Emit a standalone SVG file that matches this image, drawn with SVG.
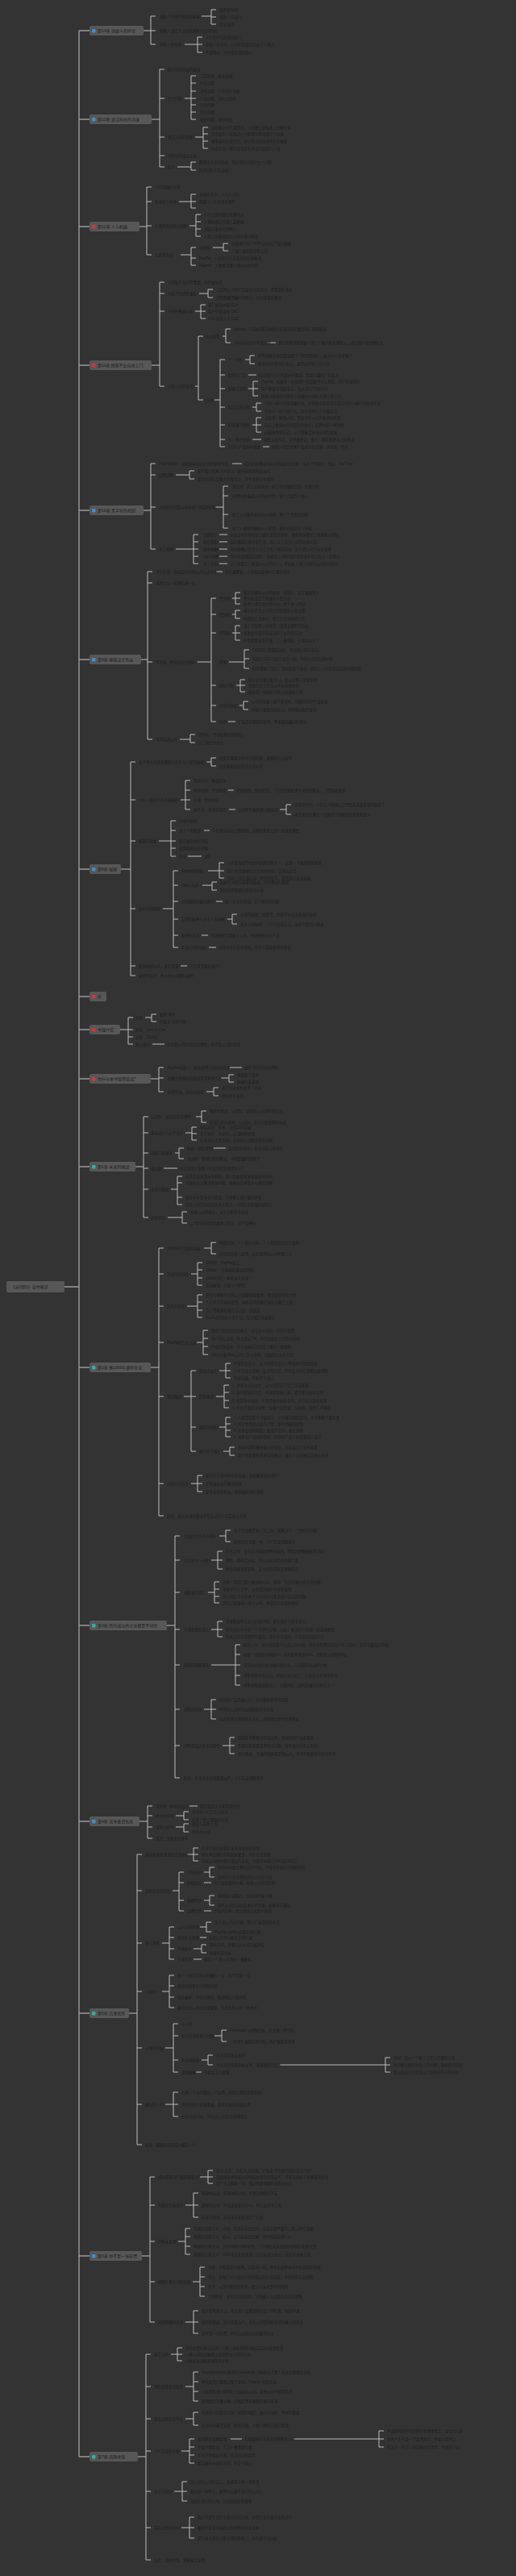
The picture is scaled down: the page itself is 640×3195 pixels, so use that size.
<svg xmlns="http://www.w3.org/2000/svg" width="640" height="3195" viewBox="0 0 640 3195">
<style>
.n{font-family:"Liberation Sans","Noto Sans CJK SC",sans-serif;font-size:4.5px;fill:#1e1e1e;dominant-baseline:central}
.tp{font-family:"Liberation Sans","Noto Sans CJK SC",sans-serif;font-size:5px;fill:#1a1a1a;dominant-baseline:central}
.c{stroke:#bdbdbd;stroke-width:1;fill:none}
.trunk{stroke:#9a9a9a;stroke-width:1.4;fill:none}
.box{fill:#575757}
.ib{fill:#3a8fd8}.ir{fill:#d8343a}.it{fill:#2bb3a0}
</style>
<rect width="640" height="3195" fill="#333333"/>
<g id="connectors">
<path class="trunk" d="M80,1596H98M98,38V3047M98,38H111M98,148H111M98,281H111M98,453H111M98,633H111M98,818H111M98,1078H111M98,1236H111M98,1277H111M98,1338H111M98,1447H111M98,1696H111M98,2016H111M98,2259H111M98,2497H111M98,2798H111M98,3047H111"/>
<path class="c" d="M178,38H187M193,20H187V55H193M187,38H193M250,20H262M268,12H262V30H268M262,21H268M229,55H245M251,46H245V65H251M245,55H251"/>
<path class="c" d="M188,148H198M204,86H198V207H204M198,122H204M198,170H204M198,193H204M229,122H237M243,94H237V148H243M237,103H243M237,113H243M237,122H243M237,130H243M237,139H243M242,170H252M258,158H252V184H258M252,166H258M252,175H258M220,207H237M243,201H237V211H243"/>
<path class="c" d="M173,281H182M188,232H182V316H188M182,250H188M182,280H188M222,250H237M243,241H237V258H243M237,250H243M235,280H243M249,266H243V293H249M243,275H249M243,284H249M224,316H237M243,307H237V329H243M237,320H243M264,307H277M283,302H277V311H283"/>
<path class="c" d="M188,453H198M204,350H198V479H204M198,364H204M198,386H204M247,364H258M264,359H258V369H264M242,386H249M255,378H249V395H255M249,386H255M242,479H246M252,417H246V496H252M276,417H280M286,408H280V425H286M332,425H342M266,496H273M279,446H273V554H279M273,465H279M273,482H279M273,505H279M273,527H279M273,545H279M304,446H310M316,441H310V451H316M308,465H318M308,482H314M320,473H314V491H320M314,482H320M313,505H318M324,500H318V510H324M313,527H318M324,518H318V536H324M318,527H324M313,545H324M326,554H334"/>
<path class="c" d="M178,633H187M193,575H187V681H193M187,589H193M187,629H193M288,575H300M218,589H235M241,584H235V594H241M267,629H277M283,603H277V655H283M277,615H283M277,638H283M218,681H240M246,663H240V699H246M240,672H246M240,681H246M240,690H246M272,663H282M272,672H282M272,681H282M272,690H282M272,699H282"/>
<path class="c" d="M175,818H183M189,709H183V917H189M183,723H189M183,821H189M268,709H276M245,821H262M268,742H262V895H268M262,762H268M262,785H268M262,850H268M262,875H268M288,742H292M298,735H292V749H298M292,742H298M288,762H292M298,757H292V767H298M288,785H292M298,776H292V794H298M292,785H298M284,821H303M309,806H303V829H309M303,817H309M293,850H298M304,843H298V858H304M298,850H304M297,875H302M308,870H302V880H308M283,895H292M223,917H236M242,911H236V921H242"/>
<path class="c" d="M150,1078H162M168,945H162V1210H168M162,992H168M162,1043H168M162,1127H168M162,1198H168M256,945H262M268,940H262V950H268M224,992H230M236,968H230V1004H236M230,980H236M230,992H236M283,980H290M284,1004H292M347,1004H355M361,998H355V1010H361M197,1043H212M218,1018H212V1062H218M212,1030H218M212,1043H218M212,1052H218M253,1030H260M233,1062H250M202,1127H215M221,1080H215V1175H221M215,1098H221M215,1118H221M215,1140H221M215,1160H221M258,1080H272M278,1070H272V1089H278M272,1080H278M251,1098H263M269,1094H263V1104H269M268,1118H276M282,1140H288M294,1134H288V1146H294M250,1160H258M259,1175H268M224,1198H232"/>
<path class="c" d="M149,1277H159M165,1262H159V1295H165M159,1277H165M159,1286H165M180,1262H188M194,1258H188V1267H194M189,1295H204"/>
<path class="c" d="M187,1338H197M203,1324H197V1354H203M197,1337H203M285,1324H300M274,1337H284M290,1333H284V1342H290M256,1354H265M271,1349H265V1359H271"/>
<path class="c" d="M168,1447H178M184,1385H178V1510H184M178,1405H184M178,1430H184M178,1449H184M178,1475H184M243,1385H250M256,1378H250V1392H256M230,1405H238M244,1398H238V1414H244M238,1406H244M217,1430H222M228,1424H222V1437H228M265,1424H280M203,1449H220M212,1475H220M226,1459H220V1494H226M220,1467H226M220,1485H226M208,1510H226M232,1503H226V1517H232"/>
<path class="c" d="M187,1696H197M203,1548H197V1880H203M197,1580H203M197,1620H203M197,1665H203M197,1732H203M197,1840H203M253,1548H262M268,1541H262V1555H268M237,1580H245M251,1566H245V1594H251M245,1575H251M245,1585H251M232,1620H245M251,1606H245V1634H251M245,1615H251M245,1625H251M244,1665H252M258,1650H252V1680H258M252,1660H258M252,1670H258M228,1732H237M243,1700H237V1800H243M237,1732H243M237,1770H243M272,1700H280M286,1691H280V1709H286M280,1700H286M268,1732H278M284,1718H278V1746H284M278,1727H284M278,1737H284M272,1770H280M286,1758H280V1782H286M280,1766H286M280,1774H286M277,1800H285M291,1795H285V1805H291M237,1840H245M251,1830H245V1850H251M245,1840H251"/>
<path class="c" d="M207,2016H217M223,1905H217V2205H223M217,1935H223M217,1975H223M217,2021H223M217,2065H223M217,2120H223M217,2165H223M272,1905H280M286,1898H280V1912H286M262,1935H270M276,1924H270V1946H276M270,1935H276M258,1975H266M272,1962H266V1988H272M266,1971H272M266,1980H272M262,2021H270M276,2011H270V2030H276M270,2021H276M262,2065H292M298,2040H292V2090H298M292,2052H298M292,2065H298M292,2078H298M253,2120H262M268,2108H262V2132H268M262,2120H268M276,2165H285M291,2155H285V2175H291M285,2165H291"/>
<path class="c" d="M173,2259H183M189,2240H183V2280H189M183,2252H189M183,2266H189M235,2240H245M218,2252H228M234,2247H228V2257H234M218,2266H228M234,2262H228V2272H234"/>
<path class="c" d="M160,2497H170M176,2300H170V2660H176M170,2345H176M170,2410H176M170,2470H176M170,2540H176M170,2610H176M232,2300H240M246,2292H240V2308H246M240,2300H246M214,2345H222M228,2322H222V2370H228M222,2335H228M222,2357H228M253,2322H260M266,2316H260V2328H266M253,2335H262M253,2357H260M266,2351H260V2363H266M253,2370H262M201,2410H210M216,2390H210V2430H216M210,2403H216M210,2417H216M248,2390H256M262,2384H256V2396H262M248,2403H256M240,2417H250M256,2412H250V2422H256M240,2430H250M201,2470H210M216,2450H210V2490H216M210,2463H216M210,2477H216M205,2540H215M221,2510H215V2570H221M215,2525H221M215,2555H221M266,2525H275M281,2518H275V2532H281M250,2555H258M264,2549H258V2561H264M347,2561H478M484,2552H478V2570H484M478,2561H484M243,2570H250M205,2610H215M221,2595H215V2625H221M215,2610H221"/>
<path class="c" d="M176,2798H186M192,2700H186V2880H192M186,2735H192M186,2780H192M186,2830H192M248,2700H258M264,2692H258V2708H264M258,2700H264M230,2735H240M246,2720H240V2750H246M240,2735H246M221,2780H230M236,2764H230V2796H236M230,2774H236M230,2786H236M239,2830H248M254,2812H248V2848H254M248,2824H254M248,2836H254M230,2880H240M246,2866H240V2894H246M240,2880H246"/>
<path class="c" d="M171,3047H181M187,2920H181V3175H187M181,2960H187M181,3000H187M181,3040H187M181,3090H187M181,3135H187M212,2920H220M226,2912H220V2928H226M220,2920H226M230,2960H240M246,2942H240V2978H246M240,2954H246M240,2966H246M230,3000H240M246,2992H240V3008H246M225,3040H235M241,3025H235V3055H241M235,3035H241M235,3045H241M286,3025H300M364,3025H470M476,3015H470V3035H476M470,3025H476M216,3090H226M232,3078H226V3102H232M226,3090H232M225,3135H235M241,3122H235V3148H241M235,3135H241"/>
</g>
<g id="root"><rect class="box" x="8" y="1589" width="72" height="14" rx="2"/><text class="tp" x="14" y="1596">《从0到1》读书笔记</text></g>
<g id="t1"><rect class="box" x="111" y="32" width="67" height="12" rx="2"/><rect class="ib" x="114" y="36" width="4.5" height="4.5" rx="1"/><text class="tp" x="121" y="38">第14章 创始人的悖论</text>
<text class="n" x="198" y="20">创始人特质的两面性极端</text><text class="n" x="272" y="12">受害者/神化</text><text class="n" x="272" y="21">局外人/内部人</text><text class="n" x="272" y="30">贫穷/富有</text>
<text class="n" x="198" y="38">创始人决定了公司的成败与文化特质</text><text class="n" x="198" y="55">创始人的作用</text>
<text class="n" x="255" y="46">人们崇拜或迫害创始人</text><text class="n" x="255" y="55">创始人的光环：公司的能量常来自个人魅力</text><text class="n" x="255" y="65">不要神化，也不要贬低创始人</text></g>
<g id="t2"><rect class="box" x="111" y="142" width="77" height="12" rx="2"/><rect class="ib" x="114" y="146" width="4.5" height="4.5" rx="1"/><text class="tp" x="121" y="148">第13章 清洁科技的泡沫</text>
<text class="n" x="208" y="86">清洁科技泡沫的破灭</text><text class="n" x="208" y="122">七个问题</text>
<text class="n" x="248" y="94">工程问题：技术突破</text><text class="n" x="248" y="103">时机问题</text><text class="n" x="248" y="113">垄断问题：小市场大份额</text><text class="n" x="248" y="122">人员问题：团队合适吗</text><text class="n" x="248" y="130">分销问题</text><text class="n" x="248" y="139">持久问题</text><text class="n" x="248" y="148">秘密问题：独特机会</text>
<text class="n" x="208" y="170">清洁公司的失败</text><text class="n" x="262" y="158">太阳能公司大量倒闭，大多数只是技术上的模仿者</text><text class="n" x="262" y="166">几乎没有一家清洁公司能够回答全部七个问题</text><text class="n" x="262" y="175">依靠政府补贴生存，缺乏真正的技术优势和秘密</text><text class="n" x="262" y="184">社会企业：把社会效益和商业利润混为一谈</text>
<text class="n" x="208" y="193">特斯拉的成功之道</text><text class="n" x="208" y="207">结论</text><text class="n" x="247" y="201">能源革命必将到来，但必须先回答好七个问题</text><text class="n" x="247" y="211">技术创新才是突破口</text></g>
<g id="t3"><rect class="box" x="111" y="275" width="62" height="12" rx="2"/><rect class="ir" x="114" y="279" width="4.5" height="4.5" rx="1"/><text class="tp" x="121" y="281">第12章 人与机器</text>
<text class="n" x="192" y="232">人与机器的关系</text><text class="n" x="192" y="250">全球化与技术</text>
<text class="n" x="247" y="241">全球化竞争：人与人之间</text><text class="n" x="247" y="250">机器与人互补而非替代</text><text class="n" x="247" y="258">…</text>
<text class="n" x="192" y="280">计算机的优势与局限</text><text class="n" x="253" y="266">人与计算机擅长的事不同</text><text class="n" x="253" y="275">计算机擅长处理大量数据</text><text class="n" x="253" y="284">但缺乏基本的判断力</text><text class="n" x="253" y="293">人机互补能创造巨大的价值与财富</text>
<text class="n" x="192" y="316">互补型企业</text><text class="n" x="247" y="307">谷歌猫</text><text class="n" x="287" y="302">谷歌用1.6万个CPU识别出了猫的图像</text><text class="n" x="287" y="311">三岁儿童就能轻松认出</text>
<text class="n" x="247" y="320">PayPal：人机协作打击欺诈的反恐模式</text><text class="n" x="247" y="329">Palantir：大数据需要人的分析和判断</text></g>
<g id="t4"><rect class="box" x="111" y="447" width="77" height="12" rx="2"/><rect class="ir" x="114" y="451" width="4.5" height="4.5" rx="1"/><text class="tp" x="121" y="453">第11章 顾客不会自动上门</text>
<text class="n" x="208" y="350">分销和产品同等重要，却常被忽视</text><text class="n" x="208" y="364">书呆子的销售偏见</text><text class="n" x="268" y="359">工程师认为好产品会自己卖出去，销售是肤浅的</text><text class="n" x="268" y="369">销售隐藏得最好的地方，往往效果也最好</text>
<text class="n" x="208" y="386">分销的衡量标准</text><text class="n" x="258" y="378">客户终身价值 CLV</text><text class="n" x="258" y="386">客户获取成本 CAC</text><text class="n" x="258" y="395">CLV 必须大于 CAC</text>
<text class="n" x="208" y="479">分销方式的谱系</text><text class="n" x="255" y="417">复杂销售</text><text class="n" x="290" y="408">SpaceX：与政府签订价值上亿美元的大额合同，周期很长</text><text class="n" x="290" y="425">CEO亲自出马完成大单</text><text class="n" x="345" y="425">复杂销售需要创始人的个人魅力和长期投入，成交量少但金额巨大</text>
<text class="n" x="255" y="496">其他</text><text class="n" x="283" y="446">个人销售</text><text class="n" x="320" y="441">中等规模交易需要组建专门的销售团队，面向中小企业客户</text><text class="n" x="320" y="451">每单约1万至10万美元，通常由销售人员完成</text>
<text class="n" x="283" y="465">营销与广告</text><text class="n" x="321" y="465">适合面向大众的低价消费品，需要大量的广告投入</text>
<text class="n" x="283" y="482">病毒式营销</text><text class="n" x="324" y="473">PayPal：每推荐一位新用户就奖励10美元现金，用户快速增长</text><text class="n" x="324" y="482">用户数量呈指数增长，每天增长7%到10%</text><text class="n" x="324" y="491">病毒式营销的关键是占领最有价值的关键市场节点</text>
<text class="n" x="283" y="505">幂次法则分销</text><text class="n" x="328" y="500">只有一种分销渠道最有效，大多数企业甚至无法让任何一种分销渠道生效</text><text class="n" x="328" y="510">专注于一种分销方式，而不是所有方式都尝试</text>
<text class="n" x="283" y="527">向非客户销售</text><text class="n" x="328" y="518">向投资人推销公司，需要讲好公司的故事和前景</text><text class="n" x="328" y="527">向员工推销公司的愿景和使命，招聘也是一种销售</text><text class="n" x="328" y="536">向媒体推销自己，公众形象会影响公司的发展</text>
<text class="n" x="283" y="545">人人都在推销</text><text class="n" x="327" y="545">销售无处不在，却不被承认；每个人都在推销自己的想法</text><text class="n" x="283" y="554">分销与产品同样重要</text><text class="n" x="337" y="554">好的分销是优秀产品成功的关键，两者缺一不可</text></g>
<g id="t5"><rect class="box" x="111" y="627" width="67" height="12" rx="2"/><rect class="ib" x="114" y="631" width="4.5" height="4.5" rx="1"/><text class="tp" x="121" y="633">第10章 黑手党的机制</text>
<text class="n" x="197" y="575">PayPal黑帮：创始团队成员之间的紧密关系</text><text class="n" x="303" y="575">成员后来都成为硅谷的成功企业家，创办了特斯拉、领英、YouTube</text>
<text class="n" x="197" y="589">招聘问题</text><text class="n" x="245" y="584">如何吸引优秀人才加入一家不知名的创业公司</text><text class="n" x="245" y="594">使命和团队是最大的吸引力，而不是薪水和福利</text>
<text class="n" x="197" y="629">公司文化就是公司本身：团结的团队</text><text class="n" x="288" y="603">使命感：员工应该喜欢一起工作并彼此信任，长期合作</text><text class="n" x="288" y="615">招聘时要强调公司的独特性，吸引合适的人加入</text><text class="n" x="288" y="638">员工之间要有相同的价值观，像一个紧密的团体</text><text class="n" x="288" y="655">每个人都有明确的分工职责，避免内部竞争与冲突</text>
<text class="n" x="197" y="681">员工管理</text><text class="n" x="252" y="663">全职员工</text><text class="n" x="252" y="672">股权激励</text><text class="n" x="252" y="681">现金报酬</text><text class="n" x="252" y="690">CEO薪酬</text><text class="n" x="252" y="699">员工持股</text>
<text class="n" x="285" y="663">创业公司的每位员工都应该是全职的，兼职和远程员工很难融入团队</text><text class="n" x="285" y="672">股权激励比现金更有效，能让员工关注公司的长期价值</text><text class="n" x="285" y="681">现金报酬过高会让员工只关心眼前利益，而不是公司的未来发展</text><text class="n" x="285" y="690">CEO的薪酬越低越好，高薪会让CEO维护现状而不是与员工一起努力</text><text class="n" x="285" y="699">员工持股让大家成为公司的主人，更加投入地工作并与公司共同成长</text></g>
<g id="t6"><rect class="box" x="111" y="812" width="64" height="12" rx="2"/><rect class="ib" x="114" y="816" width="4.5" height="4.5" rx="1"/><text class="tp" x="121" y="818">第9章 基础决定命运</text>
<text class="n" x="193" y="709">蒂尔定律：基础没打好的公司无法修复</text><text class="n" x="279" y="709">开头最重要，一开始就要做好正确的决定</text><text class="n" x="193" y="723">选择合伙人就像结婚一样</text>
<text class="n" x="193" y="821">所有权、经营权和控制权</text>
<text class="n" x="272" y="742">所有权</text><text class="n" x="302" y="735">谁合法拥有公司的股份：创始人、员工和投资人</text><text class="n" x="302" y="742">所有权决定了利益的分配方式</text><text class="n" x="302" y="749">投资人拥有部分所有权，但不参与经营</text>
<text class="n" x="272" y="762">经营权</text><text class="n" x="302" y="757">谁实际负责公司的日常管理和运营决策</text><text class="n" x="302" y="767">管理层负责执行，员工负责具体的工作</text>
<text class="n" x="272" y="785">控制权</text><text class="n" x="302" y="776">谁正式管理公司事务：董事会拥有控制权</text><text class="n" x="302" y="785">董事会的成员构成决定了公司的方向</text><text class="n" x="302" y="794">小型董事会更有效，三人最理想，不要超过五人</text>
<text class="n" x="272" y="821">薪酬</text><text class="n" x="313" y="806">CEO的工资越低越好，不应超过15万美元</text><text class="n" x="313" y="817">低薪让CEO与员工站在一起，关注公司的长期价值</text><text class="n" x="313" y="829">现金着眼于现在，股权着眼于未来，股权让人们关注长远的价值创造</text>
<text class="n" x="272" y="850">股权分配</text><text class="n" x="308" y="843">股权会导致分配不公，所以分配方案要保密</text><text class="n" x="308" y="850">但能让员工关注公司未来的价值</text><text class="n" x="308" y="858">股权是一种强有力的长期激励工具</text>
<text class="n" x="272" y="875">持续的基础</text><text class="n" x="312" y="870">公司在发展中要不断创新，创始时刻并不会结束</text><text class="n" x="312" y="880">创始人要保持创造力，持续推动新的变革</text>
<text class="n" x="272" y="895">延伸</text><text class="n" x="295" y="895">扩张是对基础的延伸，不能偏离最初的使命</text>
<text class="n" x="193" y="917">科学运营公司</text><text class="n" x="246" y="911">所有权、经营权和控制权统一</text><text class="n" x="246" y="921">员工都是全职的</text></g>
<g id="t7"><rect class="box" x="111" y="1072" width="39" height="12" rx="2"/><rect class="ib" x="114" y="1076" width="4.5" height="4.5" rx="1"/><text class="tp" x="121" y="1078">第8章 秘密</text>
<text class="n" x="172" y="945">每个伟大的企业都建立在不为人知的秘密上</text><text class="n" x="272" y="940">秘密是重要而不为人知的事，很难但可以实现</text><text class="n" x="272" y="950">没有秘密就没有伟大的公司</text>
<text class="n" x="172" y="992">为什么我们不再寻找秘密</text><text class="n" x="240" y="968">渐进主义：循规蹈矩</text><text class="n" x="240" y="980">风险规避：害怕犯错</text><text class="n" x="293" y="980">害怕孤独，害怕犯错，人们不愿意追求不寻常的想法，宁愿随波逐流</text><text class="n" x="240" y="992">自满：坐享其成</text><text class="n" x="240" y="1004">扁平化：全球化竞争</text><text class="n" x="295" y="1004">以为所有秘密都已被发现</text><text class="n" x="365" y="998">全球化时代，人们认为地球上已经没有未被发现的秘密了</text><text class="n" x="365" y="1010">扁平化的世界让人们放弃了对秘密的探索和追寻</text>
<text class="n" x="172" y="1043">秘密的种类</text><text class="n" x="222" y="1018">自然的秘密</text><text class="n" x="222" y="1030">关于人的秘密</text><text class="n" x="263" y="1030">人们不知道自己的秘密，或者不愿意让别人知道的事情</text><text class="n" x="222" y="1043">研究被忽视的领域</text><text class="n" x="222" y="1052">找到秘密后告诉谁</text><text class="n" x="222" y="1062">创业</text><text class="n" x="253" y="1062">团队</text>
<text class="n" x="172" y="1127">如何寻找秘密</text><text class="n" x="225" y="1080">Airbnb的秘密</text><text class="n" x="282" y="1070">人们愿意把空余房间出租给陌生人，这是一个被忽视的秘密</text><text class="n" x="282" y="1080">旅行者需要便宜又舒适的住处，而酒店太贵</text><text class="n" x="282" y="1089">市场上没有满足这一需求的服务，供需双方无法连接</text>
<text class="n" x="225" y="1098">Uber与Lyft</text><text class="n" x="273" y="1094">私家车司机与乘客的连接，利用移动互联网</text><text class="n" x="273" y="1104">利用闲置资源创造新的价值</text>
<text class="n" x="225" y="1118">寻找秘密的最佳地方</text><text class="n" x="279" y="1118">没人关注的领域，没人研究的问题</text>
<text class="n" x="225" y="1140">自然的秘密与关于人的秘密</text><text class="n" x="298" y="1134">自然的秘密：物理学、生物学中尚未发现的规律</text><text class="n" x="298" y="1146">关于人的秘密：人们不知道自己，或者不愿别人知道</text>
<text class="n" x="225" y="1160">秘密的用途</text><text class="n" x="261" y="1160">找到秘密后要建立公司，把秘密转化为产品</text><text class="n" x="225" y="1175">有效市场的误区</text><text class="n" x="271" y="1175">市场并非总是有效的，仍有大量秘密等待发现</text>
<text class="n" x="172" y="1198">找到秘密以后，要告诉谁？</text><text class="n" x="235" y="1198">只告诉需要知道的人</text><text class="n" x="172" y="1210">秘密的结论：伟大的公司都有秘密</text></g>
<g id="t8"><rect class="box" x="111" y="1230" width="21" height="12" rx="2"/><rect class="ir" x="114" y="1234" width="4.5" height="4.5" rx="1"/><text class="tp" x="121" y="1236">序</text></g>
<g id="t9"><rect class="box" x="111" y="1271" width="38" height="12" rx="2"/><rect class="ir" x="114" y="1275" width="4.5" height="4.5" rx="1"/><text class="tp" x="121" y="1277">书籍介绍</text>
<text class="n" x="168" y="1262">作者</text><text class="n" x="198" y="1258">彼得·蒂尔</text><text class="n" x="198" y="1267">布莱克·马斯特斯</text>
<text class="n" x="168" y="1277">原名：Zero to One</text><text class="n" x="168" y="1286">出版：2015年</text><text class="n" x="168" y="1295">核心观点</text><text class="n" x="207" y="1295">企业要从0到1创造新事物，而不是从1到n复制</text></g>
<g id="t10"><rect class="box" x="111" y="1332" width="76" height="12" rx="2"/><rect class="ir" x="114" y="1336" width="4.5" height="4.5" rx="1"/><text class="tp" x="121" y="1338">为什么本书值得阅读？</text>
<text class="n" x="208" y="1324">PayPal创始人、硅谷投资人的创业思考</text><text class="n" x="303" y="1324">彼得·蒂尔的创业经验</text>
<text class="n" x="208" y="1337">颠覆传统观念的商业哲学思考方式</text><text class="n" x="294" y="1333">垄断胜于竞争</text><text class="n" x="294" y="1342">明确的未来观</text>
<text class="n" x="208" y="1354">实践性强，适合创业者</text><text class="n" x="275" y="1349">适合创业者和投资人阅读</text><text class="n" x="275" y="1359">帮助思考未来</text></g>
<g id="t11"><rect class="box" x="111" y="1441" width="57" height="12" rx="2"/><rect class="it" x="114" y="1445" width="4.5" height="4.5" rx="1"/><text class="tp" x="121" y="1447">第1章 未来的挑战</text>
<text class="n" x="187" y="1385">从0到1：创造全新的事物</text><text class="n" x="260" y="1378">做新的事情，从0到1，是创造从无到有的东西</text><text class="n" x="260" y="1392">复制已有的事物，从1到n，是对已知事物的拓展</text>
<text class="n" x="187" y="1405">垂直进步与水平进步</text><text class="n" x="248" y="1398">垂直进步：技术，从0到1的突破</text><text class="n" x="248" y="1406">水平进步：全球化，从1到n的复制</text><text class="n" x="248" y="1414">技术进步才是关键，全球化无法解决所有问题</text>
<text class="n" x="187" y="1430">科技与全球化</text><text class="n" x="232" y="1424">科技：做新事物</text><text class="n" x="283" y="1424">从0到1的进步，垂直或深入的进步</text><text class="n" x="232" y="1437">全球化：复制已有的模式，中国是最好的例子</text>
<text class="n" x="187" y="1449">面试题</text><text class="n" x="223" y="1449">你认同而大多数人不认同的真理是什么？</text>
<text class="n" x="187" y="1475">未来的挑战</text><text class="n" x="230" y="1459">未来是尚未到来的时刻，我们需要思考未来会有何不同</text><text class="n" x="230" y="1467">全球化无法解决资源问题，地球无法承受这么多的消耗</text><text class="n" x="230" y="1485">新技术才是未来的希望，它能够让我们做得更多</text><text class="n" x="230" y="1494">创业公司是创造新技术的地方，小团队有更强的创造力</text>
<text class="n" x="187" y="1510">创业思维</text><text class="n" x="236" y="1503">质疑公认的观念，从头开始思考商业</text><text class="n" x="236" y="1517">从0到1的创造需要独立思考，而不是模仿</text></g>
<g id="t12"><rect class="box" x="111" y="1690" width="76" height="12" rx="2"/><rect class="it" x="114" y="1694" width="4.5" height="4.5" rx="1"/><text class="tp" x="121" y="1696">第2章 像1999年那样狂欢</text>
<text class="n" x="207" y="1548">1999年的互联网泡沫</text><text class="n" x="272" y="1541">网络狂热：人人都在创业，人人都想成为百万富翁</text><text class="n" x="272" y="1555">疯狂的估值与投资，没有盈利的公司也能上市</text>
<text class="n" x="207" y="1580">泡沫的时间线</text><text class="n" x="255" y="1566">1998年：PayPal成立</text><text class="n" x="255" y="1575">1999年：互联网热潮达到顶峰</text><text class="n" x="255" y="1585">2000年3月：纳斯达克见顶</text><text class="n" x="255" y="1594">泡沫破裂，无数公司倒闭</text>
<text class="n" x="207" y="1620">狂热的表现</text><text class="n" x="255" y="1606">任何与网络有关的公司都能轻松融资，哪怕没有商业计划</text><text class="n" x="255" y="1615">人们不计后果地投资，纳斯达克指数在两年内翻了五倍</text><text class="n" x="255" y="1625">员工拿着期权相信自己会一夜致富</text><text class="n" x="255" y="1634">PayPal在泡沫中求生存，每天都在快速增长</text>
<text class="n" x="207" y="1665">PayPal的生存之道</text><text class="n" x="262" y="1650">找到了真实的盈利模式：从交易中收取一定的手续费</text><text class="n" x="262" y="1660">用户增长迅速，每天增长7%，但也面临巨大的欺诈损失</text><text class="n" x="262" y="1670">严格控制成本，在泡沫破裂前完成了最后一轮融资</text><text class="n" x="262" y="1680">2002年被eBay以15亿美元收购，创始团队各奔东西</text>
<text class="n" x="207" y="1732">经验教训</text>
<text class="n" x="247" y="1700">渐进式进步</text><text class="n" x="290" y="1691">不要狂妄自大，宏大的愿景会让人怀疑你在制造泡沫</text><text class="n" x="290" y="1700">小步前进才是唯一安全的方式，任何宏大的计划都会被嘲笑</text><text class="n" x="290" y="1709">稳健发展，不要夸下海口</text>
<text class="n" x="247" y="1732">四条教训</text><text class="n" x="288" y="1718">1. 做渐进式的进步：宏大的愿景只会让泡沫膨胀</text><text class="n" x="288" y="1727">2. 保持精益和灵活：不要提前做计划，要不断试验和迭代</text><text class="n" x="288" y="1737">3. 在竞争中改进：不要贸然开拓新市场，在已有市场中竞争</text><text class="n" x="288" y="1746">4. 专注产品而非销售：如果产品需要广告推销，说明它不够好</text>
<text class="n" x="247" y="1770">相反的原则</text><text class="n" x="290" y="1758">1. 大胆冒险胜于平庸保守：宁可做大胆的尝试，也不要做平庸的事</text><text class="n" x="290" y="1766">2. 坏计划也好过没有计划：要有明确的规划</text><text class="n" x="290" y="1774">3. 竞争会毁掉利润：要避开竞争，建立垄断</text><text class="n" x="290" y="1782">4. 销售和产品同样重要：分销和产品一样需要精心设计</text>
<text class="n" x="247" y="1800">哪个才正确？</text><text class="n" x="295" y="1795">泡沫时期的教训被过度吸取，反而成为了新的教条</text><text class="n" x="295" y="1805">我们需要重新思考这些教训，最反主流的做法是独立思考</text>
<text class="n" x="207" y="1840">对现在的启示</text><text class="n" x="255" y="1830">现在的市场同样存在泡沫，例如教育和房地产</text><text class="n" x="255" y="1840">不要被过去的教训束缚</text><text class="n" x="255" y="1850">思考未来的机会，找到被忽视的领域</text>
<text class="n" x="207" y="1880">结论：最反主流的做法不是反对大众而是独立思考</text></g>
<g id="t13"><rect class="box" x="111" y="2010" width="96" height="12" rx="2"/><rect class="it" x="114" y="2014" width="4.5" height="4.5" rx="1"/><text class="tp" x="121" y="2016">第3章 所有成功的企业都是不同的</text>
<text class="n" x="228" y="1905">幸福的企业各不相同</text><text class="n" x="290" y="1898">每个企业都是独一无二的，都解决了一个独特的问题</text><text class="n" x="290" y="1912">失败的企业都一样，它们无法逃脱竞争</text>
<text class="n" x="228" y="1935">完全竞争与垄断</text><text class="n" x="280" y="1924">完全竞争：没有企业能获得经济利润，所有利润都被竞争消耗</text><text class="n" x="280" y="1935">垄断：拥有定价权，可以自由决定价格和产量</text><text class="n" x="280" y="1946">经济学家喜欢竞争，认为完全竞争是理想状态</text>
<text class="n" x="228" y="1975">垄断者的谎言</text><text class="n" x="276" y="1962">谷歌：我们只是一家科技公司，搜索广告只占很小的市场份额</text><text class="n" x="276" y="1971">垄断者夸大竞争，以免受到政府审查和监管</text><text class="n" x="276" y="1980">把市场定义为许多个大市场的并集来缩小自己的份额</text><text class="n" x="276" y="1988">把自己描述成一家小公司，掩盖自己的垄断地位</text>
<text class="n" x="228" y="2021">非垄断者的谎言</text><text class="n" x="280" y="2011">非垄断者夸大自己的独特性，把市场定义得非常小</text><text class="n" x="280" y="2021">把市场定义为多个小市场的交集，比如：帕洛阿尔托唯一的英国餐馆</text><text class="n" x="280" y="2030">但真正的市场是所有餐馆，竞争非常激烈，几乎没有利润可言</text>
<text class="n" x="228" y="2065">竞争的残酷现实</text><text class="n" x="302" y="2040">航空公司：每年创造数千亿美元的价值，但每张机票的利润只有几美分，竞争导致没有利润</text><text class="n" x="302" y="2052">谷歌：创造的价值较少，但利润率高达21%，是航空公司的100倍</text><text class="n" x="302" y="2065">竞争使企业只关注眼前的生存，无法制定长远的计划</text><text class="n" x="302" y="2078">垄断者能考虑长远，有能力关心员工、产品和对世界的影响</text><text class="n" x="302" y="2090">垄断者能够照顾员工，谷歌的员工福利是最好的例子之一</text>
<text class="n" x="228" y="2120">垄断的好处</text><text class="n" x="272" y="2108">创造新产品造福大众，给消费者更多的选择</text><text class="n" x="272" y="2120">利润足以支持长远规划和研究开发</text><text class="n" x="272" y="2132">动态世界中垄断不会永久，创新者会取代旧垄断者</text>
<text class="n" x="228" y="2165">垄断是成功企业的条件</text><text class="n" x="295" y="2155">创造性垄断推动社会进步，带来新的产品和服务</text><text class="n" x="295" y="2165">不是创新而是竞争带来问题，竞争使企业失去利润</text><text class="n" x="295" y="2175">托尔斯泰：幸福的家庭都是相似的，不幸的家庭各有各的不幸</text>
<text class="n" x="228" y="2205">结论：不幸的企业都是相似的，它们无法摆脱竞争</text></g>
<g id="t14"><rect class="box" x="111" y="2253" width="62" height="12" rx="2"/><rect class="ib" x="114" y="2257" width="4.5" height="4.5" rx="1"/><text class="tp" x="121" y="2259">第4章 竞争意识形态</text>
<text class="n" x="193" y="2240">竞争是一种意识形态</text><text class="n" x="248" y="2240">我们总是认为竞争是好的</text>
<text class="n" x="193" y="2252">模仿的竞争</text><text class="n" x="238" y="2247">竞争使人们只关注对手</text><text class="n" x="238" y="2257">忽视了真正重要的东西</text>
<text class="n" x="193" y="2266">战争与和平</text><text class="n" x="238" y="2262">微软与谷歌之争</text><text class="n" x="238" y="2272">甲骨文公司</text><text class="n" x="193" y="2280">结论：失败者才竞争</text></g>
<g id="t15"><rect class="box" x="111" y="2491" width="49" height="12" rx="2"/><rect class="it" x="114" y="2495" width="4.5" height="4.5" rx="1"/><text class="tp" x="121" y="2497">第5章 后发优势</text>
<text class="n" x="180" y="2300">未来的现金流决定企业价值</text><text class="n" x="250" y="2292">企业今天的价值是未来现金流的总和</text><text class="n" x="250" y="2300">增长率比现在的利润更重要，持久性是关键</text><text class="n" x="250" y="2308">科技公司的价值在遥远的未来，大部分价值在10年到15年后</text>
<text class="n" x="180" y="2345">垄断企业的特征</text><text class="n" x="232" y="2322">专利技术</text><text class="n" x="270" y="2316">专利技术要比替代品好10倍，才能具有真正的垄断优势</text><text class="n" x="270" y="2328">全新的东西或彻底优化已有的方案</text>
<text class="n" x="232" y="2335">网络效应</text><text class="n" x="265" y="2335">用户越多越有价值，必须从小市场开始</text><text class="n" x="232" y="2357">规模经济</text><text class="n" x="270" y="2351">规模越大越强大，固定成本被分摊</text><text class="n" x="270" y="2363">软件公司的边际成本几乎为零，规模效应极强</text>
<text class="n" x="232" y="2370">品牌优势</text><text class="n" x="265" y="2370">苹果的品牌，但品牌要以实质为基础</text>
<text class="n" x="180" y="2410">建立垄断</text><text class="n" x="220" y="2390">从小市场开始</text><text class="n" x="266" y="2384">亚马逊从书店开始，然后扩展到其他商品</text><text class="n" x="266" y="2396">PayPal 从eBay超级卖家开始</text>
<text class="n" x="220" y="2403">逐步扩大规模</text><text class="n" x="259" y="2403">由核心市场向相关市场扩展</text><text class="n" x="220" y="2417">不要破坏</text><text class="n" x="260" y="2412">避免竞争，不要与大公司正面冲突</text><text class="n" x="260" y="2422">颠覆不是目标</text>
<text class="n" x="220" y="2430">后发优势</text><text class="n" x="253" y="2430">最后一个进入市场的人赚最多</text>
<text class="n" x="180" y="2470">后发制人</text><text class="n" x="220" y="2450">做一个特定市场中的最后一位，而不是第一位</text><text class="n" x="220" y="2463">创造持续多年的垄断利润</text><text class="n" x="220" y="2477">国际象棋：先研究残局，精通残局才能获胜</text><text class="n" x="220" y="2490">最后的进入者往往是赢家，先发优势只是一种战术</text>
<text class="n" x="180" y="2540">市场的范围</text><text class="n" x="225" y="2510">小市场</text><text class="n" x="225" y="2525">在小市场获得大份额</text><text class="n" x="285" y="2518">Facebook 从哈佛开始，先占领一所学校</text><text class="n" x="285" y="2532">一步步扩展到其他学校，再扩展到全世界</text>
<text class="n" x="225" y="2555">大市场陷阱</text><text class="n" x="268" y="2549">大市场竞争太激烈</text><text class="n" x="268" y="2561">大市场里的竞争者太多，很难找到立足点</text><text class="n" x="488" y="2552">例如：进入一个数十亿美元的餐饮市场</text><text class="n" x="488" y="2561">你只能占据其中很小的份额，很难获得利润</text><text class="n" x="488" y="2570">所以创业公司应该从小而独特的市场开始</text>
<text class="n" x="225" y="2570">避免颠覆</text><text class="n" x="253" y="2570">不要太关注颠覆</text>
<text class="n" x="180" y="2610">最后的一步</text><text class="n" x="225" y="2595">占据一个市场最后一个位置，获得长期的垄断利润</text><text class="n" x="225" y="2610">垄断的持久性很重要，要考虑未来的现金流</text><text class="n" x="225" y="2625">必须考虑10年、20年后公司是否依然存在</text>
<text class="n" x="180" y="2660">结论：最重要的是成为最后一个</text></g>
<g id="t16"><rect class="box" x="111" y="2792" width="65" height="12" rx="2"/><rect class="ib" x="114" y="2796" width="4.5" height="4.5" rx="1"/><text class="tp" x="121" y="2798">第6章 你不是一张彩票</text>
<text class="n" x="196" y="2700">成功是靠运气还是靠能力？</text><text class="n" x="268" y="2692">比尔·盖茨、马克·扎克伯格、史蒂夫·乔布斯的成功是运气吗？</text><text class="n" x="268" y="2700">连续创业者的成功说明成功不仅仅是运气，马斯克创办了多家成功企业</text><text class="n" x="268" y="2708">运气无法解释一切，成功需要明确的规划和执行</text>
<text class="n" x="196" y="2735">你能掌控未来吗</text><text class="n" x="250" y="2720">明确的未来：有具体的计划，并坚定地执行下去</text><text class="n" x="250" y="2735">模糊的未来：不知道会发生什么，所以追求多元化</text><text class="n" x="250" y="2750">乐观与悲观：对未来的态度决定了行动</text>
<text class="n" x="196" y="2780">四种未来观</text><text class="n" x="240" y="2764">明确的悲观主义：中国，知道未来会怎样，但未来是严峻的，所以拼命储蓄</text><text class="n" x="240" y="2774">模糊的悲观主义：欧洲，认为未来会变糟，但不知道该做什么</text><text class="n" x="240" y="2786">明确的乐观主义：美国1950-1960年代，人们相信未来会更好并制定宏伟计划</text><text class="n" x="240" y="2796">模糊的乐观主义：1982年之后的美国，认为未来会更好，却没有具体计划</text>
<text class="n" x="196" y="2830">模糊乐观主义的后果</text><text class="n" x="258" y="2812">金融：不知道如何投资，就投向一切，资本追逐资本而不是创造新事物</text><text class="n" x="258" y="2824">政治：政客只关注选民的短期想法和民意调查，不再制定长远规划</text><text class="n" x="258" y="2836">哲学：从罗尔斯到诺齐克，都认为未来是不可知的</text><text class="n" x="258" y="2848">生物技术：漫无目的的实验，生物被认为太复杂而无法理解</text>
<text class="n" x="196" y="2880">回到明确的未来</text><text class="n" x="250" y="2866">设计是有意为之，伟大的产品都是精心设计的结果，例如苹果</text><text class="n" x="250" y="2880">规划很重要，而不是靠运气；创业公司是你能掌控的最大的事业</text><text class="n" x="250" y="2894">你不是一张彩票，你可以创造自己想要的未来</text></g>
<g id="t17"><rect class="box" x="111" y="3041" width="60" height="12" rx="2"/><rect class="it" x="114" y="3045" width="4.5" height="4.5" rx="1"/><text class="tp" x="121" y="3047">第7章 追随金钱</text>
<text class="n" x="191" y="2920">幂次法则</text><text class="n" x="230" y="2912">风险投资的幂次法则：少数几项投资的回报远远超过其他投资</text><text class="n" x="230" y="2920">一家公司的回报超过其他所有公司的总和</text><text class="n" x="230" y="2928">少数企业远胜其他所有企业</text>
<text class="n" x="191" y="2960">风险投资者的秘密</text><text class="n" x="250" y="2942">Founders Fund 投资的 Facebook 回报超过了整个基金其他项目之和</text><text class="n" x="250" y="2954">单项投资回报胜过整个基金，Palantir 也是如此</text><text class="n" x="250" y="2966">只投资有潜力获得巨大成功的公司，其他公司不值得投资</text><text class="n" x="250" y="2978">投资组合不要分散，分散投资是模糊思维的表现</text>
<text class="n" x="191" y="3000">幂次法则无处不在</text><text class="n" x="250" y="2992">自然界中的幂次法则：地震的强度、城市的规模、物种的数量</text><text class="n" x="250" y="3008">社会中的幂次法则：财富分配，少数人拥有大部分财富</text>
<text class="n" x="191" y="3040">个人应该怎么做</text><text class="n" x="245" y="3025">选择职业就像投资</text><text class="n" x="303" y="3025">寻找能够在未来获得垄断的公司</text><text class="n" x="480" y="3015">不要把时间平均分配在各种事情上，要全力以赴</text><text class="n" x="480" y="3025">你的人生不是一个投资组合，不要分散押注</text><text class="n" x="480" y="3035">专注于一件可以做到最好的事情，并坚持下去</text>
<text class="n" x="245" y="3035">不要分散精力，专注于最重要的事</text><text class="n" x="245" y="3045">专注于你擅长的事，找到自己的优势</text><text class="n" x="245" y="3055">找到最有价值的方向，并全力投入</text>
<text class="n" x="191" y="3090">员工与股权</text><text class="n" x="236" y="3078">加入创业公司的员工，就像是在做一项投资</text><text class="n" x="236" y="3090">股权是一种押注，要押注在最有潜力的公司上</text><text class="n" x="236" y="3102">选择有潜力的公司，比选择高薪更重要</text>
<text class="n" x="191" y="3135">幂次法则的意义</text><text class="n" x="245" y="3122">我们不是生活在正态分布的世界，而是生活在幂次法则之下</text><text class="n" x="245" y="3135">最好的企业价值超过其他所有企业之和</text><text class="n" x="245" y="3148">把注意力放在少数关键的事物上，而不是平均分配</text>
<text class="n" x="191" y="3175">结论：追随金钱，理解幂次法则</text></g>
</svg>
